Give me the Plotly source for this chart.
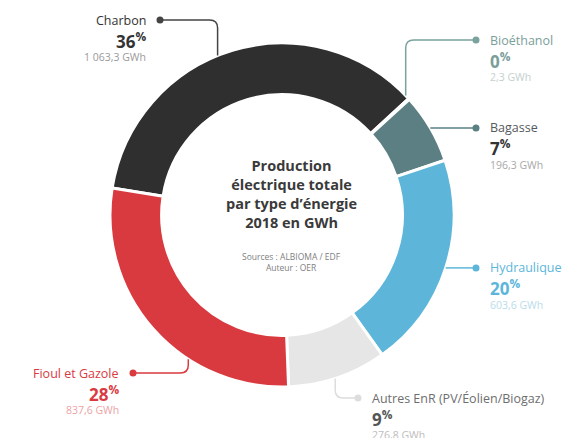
import plotly.graph_objects as go
import math

# ---- data ----
categories = ["Charbon", "Bioéthanol", "Bagasse", "Hydraulique",
              "Autres EnR (PV/Éolien/Biogaz)", "Fioul et Gazole"]
gwh_values = [1063.3, 2.3, 196.3, 603.6, 276.8, 837.6]

slice_colors = ["#2f2f2f", "#6fa59b", "#5b7f82", "#5db6da", "#e6e6e6", "#d93a3f"]
name_colors = ["#333333", "#7a9e9a", "#55595c", "#5db6da", "#6e6e6e", "#d93a3f"]
pct_colors = ["#333333", "#7a9e9a", "#333333", "#5db6da", "#555555", "#d93a3f"]
gwh_colors = ["#9a9a9a", "#c4cfcd", "#a8a8a8", "#b9dcea", "#bdbdbd", "#eba3a5"]
line_colors = ["#444444", "#7aa39d", "#5b7f82", "#5db6da", "#dddddd", "#d93a3f"]

# page geometry (the page body has an 8px margin)
PW, PH = 580, 438
OFF = 8
W, H = PW - OFF, PH - OFF
CX, CY, R = 282, 215, 172
HOLE = 0.70
ROTATION = 279
FONT = "Open Sans"

# label placement (layout): attach angle (None = slice middle), row y, dot x, side
label_layout = [
    dict(attach=338, row=20, dot=160, side="left"),
    dict(attach=46, row=40, dot=476, side="right"),
    dict(attach=None, row=None, dot=476, side="right"),
    dict(attach=None, row=None, dot=476, side="right"),
    dict(attach=162, row=398, dot=358, side="right"),
    dict(attach=213, row=373, dot=133, side="left"),
]

total = sum(gwh_values)


def fr(v):
    return f"{v:,.1f}".replace(",", " ").replace(".", ",") + " GWh"


fig = go.Figure()
fig.add_trace(go.Pie(
    labels=categories, values=gwh_values, sort=False, direction="clockwise",
    rotation=ROTATION, hole=HOLE, textinfo="none", hoverinfo="label+value+percent",
    marker=dict(colors=slice_colors, line=dict(color="white", width=3)),
    domain=dict(x=[(CX - OFF - R) / W, (CX - OFF + R) / W],
                y=[(PH - CY - R) / H, (PH - CY + R) / H]),
    showlegend=False,
))

shapes = []
annotations = []
cum = 0.0
for i, (cat, v) in enumerate(zip(categories, gwh_values)):
    start = ROTATION + cum / total * 360
    mid = start + v / total * 360 / 2
    cum += v
    lay = label_layout[i]
    ang = lay["attach"] if lay["attach"] is not None else mid
    a = math.radians(ang)
    ax, ay = CX + R * math.sin(a), CY - R * math.cos(a)
    row = lay["row"] if lay["row"] is not None else ay
    dx = lay["dot"]
    if abs(row - ay) < 2:
        path = f"M {ax:.1f} {ay:.1f} L {dx} {row:.1f}"
    else:
        sx = 1 if dx > ax else -1
        sy = 1 if row > ay else -1
        rr = 8
        path = (f"M {ax:.1f} {ay:.1f} L {ax:.1f} {row - sy*rr:.1f} "
                f"Q {ax:.1f} {row:.1f} {ax + sx*rr:.1f} {row:.1f} L {dx} {row:.1f}")
    shapes.append(dict(type="path", xref="x", yref="y", path=path,
                       line=dict(color=line_colors[i], width=1.5)))
    shapes.append(dict(type="circle", xref="x", yref="y",
                       x0=dx - 3.5, x1=dx + 3.5, y0=row - 3.5, y1=row + 3.5,
                       fillcolor=line_colors[i], line=dict(width=0)))
    if lay["side"] == "left":
        tx, xa = dx - 12, "right"
    else:
        tx, xa = dx + 12, "left"
    pct = round(v / total * 100)
    annotations += [
        dict(x=tx, y=row, xref="x", yref="y", text=cat, showarrow=False,
             xanchor=xa, yanchor="middle",
             font=dict(family=FONT, size=12.5, color=name_colors[i])),
        dict(x=tx, y=row + 20, xref="x", yref="y",
             text=f"<b>{pct}</b><sup><b>%</b></sup>", showarrow=False,
             xanchor=xa, yanchor="middle",
             font=dict(family=FONT, size=17, color=pct_colors[i])),
        dict(x=tx, y=row + 37, xref="x", yref="y", text=fr(v), showarrow=False,
             xanchor=xa, yanchor="middle",
             font=dict(family=FONT, size=10.5, color=gwh_colors[i])),
    ]

annotations += [
    dict(x=291, y=194, xref="x", yref="y",
         text="<b>Production<br>électrique totale<br>par type d’énergie<br>2018 en GWh</b>",
         showarrow=False, xanchor="center", yanchor="middle", align="center",
         font=dict(family=FONT, size=14.5, color="#3a3a3a")),
    dict(x=291, y=262, xref="x", yref="y",
         text="Sources : ALBIOMA / EDF<br>Auteur : OER",
         showarrow=False, xanchor="center", yanchor="middle", align="center",
         font=dict(family=FONT, size=8.5, color="#808080")),
]

fig.update_layout(
    width=W, height=H, margin=dict(l=0, r=0, t=0, b=0),
    paper_bgcolor="white", plot_bgcolor="rgba(0,0,0,0)",
    xaxis=dict(range=[OFF, PW], visible=False, fixedrange=True, domain=[0, 1]),
    yaxis=dict(range=[PH, OFF], visible=False, fixedrange=True, domain=[0, 1]),
    shapes=shapes, annotations=annotations,
)
fig.write_html("out.html")
